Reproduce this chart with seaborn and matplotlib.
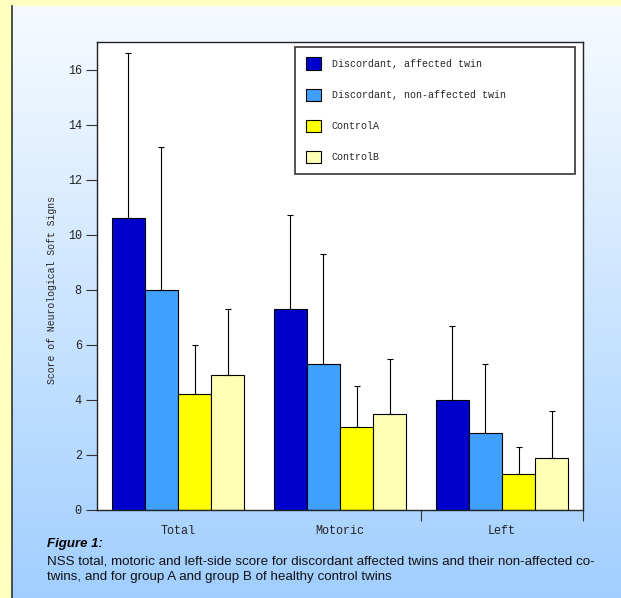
import numpy as np
import pandas as pd
import matplotlib
matplotlib.use("Agg")
import matplotlib.pyplot as plt
import seaborn as sns
from matplotlib.patches import Patch

categories = ["Total", "Motoric", "Left"]
groups = ["Discordant, affected twin", "Discordant, non-affected twin", "Control A", "Control B"]
legend_labels = ["Discordant, affected twin", "Discordant, non-affected twin", "ControlA", "ControlB"]
means = {
    "Discordant, affected twin": [10.6, 7.3, 4.0],
    "Discordant, non-affected twin": [8.0, 5.3, 2.8],
    "Control A": [4.2, 3.0, 1.3],
    "Control B": [4.9, 3.5, 1.9],
}
upper = {
    "Discordant, affected twin": [16.6, 10.7, 6.7],
    "Discordant, non-affected twin": [13.2, 9.3, 5.3],
    "Control A": [6.0, 4.5, 2.3],
    "Control B": [7.3, 5.5, 3.6],
}
colors = ["#0000CC", "#40A0FF", "#FFFF00", "#FFFFB4"]
yticks = [0, 2, 4, 6, 8, 10, 12, 14, 16]

rows = []
for g in groups:
    for c, m, u in zip(categories, means[g], upper[g]):
        rows.append({"cat": c, "group": g, "mean": m, "upper": u})
df = pd.DataFrame(rows)

sns.set_style("white")
mono = "Liberation Mono"
W, H = 621, 598
fig = plt.figure(figsize=(W / 100, H / 100), dpi=100)
fig.patch.set_facecolor("#FFFFC0")

# gradient panel
bg = fig.add_axes([12 / W, 0, 1 - 12 / W, (H - 6) / H])
grad = np.linspace(0, 1, 256).reshape(-1, 1)
top = np.array([0.97, 0.985, 1.0])
bot = np.array([0.63, 0.81, 1.0])
img = top[None, None, :] * (1 - grad[:, :, None]) + bot[None, None, :] * grad[:, :, None]
bg.imshow(img, aspect="auto", extent=[0, 1, 0, 1], origin="upper")
bg.set_xlim(0, 1); bg.set_ylim(0, 1)
bg.set_xticks([]); bg.set_yticks([])
for s in ["top", "right", "bottom"]:
    bg.spines[s].set_visible(False)
bg.spines["left"].set_color("#333333")
bg.spines["left"].set_linewidth(1.2)

ax = fig.add_axes([97 / W, (H - 510) / H, 486 / W, 468 / H])
ax.set_facecolor("white")
sns.barplot(data=df, x="cat", y="mean", hue="group", hue_order=groups, order=categories,
            palette=colors, width=0.815, edgecolor="black", linewidth=0.8,
            errorbar=None, ax=ax, legend=False, saturation=1)

# error bars from bar patches
bars = [p for p in ax.patches]
for i, g in enumerate(groups):
    for j, c in enumerate(categories):
        p = bars[i * len(categories) + j]
        xc = p.get_x() + p.get_width() / 2
        m = means[g][j]
        u = upper[g][j]
        ax.errorbar([xc], [m], yerr=[[0], [u - m]], fmt="none", ecolor="black",
                    elinewidth=0.8, capsize=2.5, capthick=0.8, zorder=1)

ax.set_ylim(0, 17)
ax.set_xlim(-0.5, 2.5)
ax.set_yticks(yticks)
ax.set_yticklabels([str(t) for t in yticks], fontfamily=mono, fontsize=8.5, color="#222222")
ax.set_xticks(range(len(categories)))
ax.set_xticklabels(categories, fontfamily=mono, fontsize=8.5, color="#222222")
ax.tick_params(axis="x", which="major", length=0, pad=11)
ax.set_xticks([1.5, 2.5], minor=True)
ax.tick_params(axis="x", which="minor", length=8, width=0.8, color="#333333", direction="out", bottom=True)
ax.tick_params(axis="y", length=8, width=0.8, color="#333333", direction="out", left=True, pad=3)
ax.set_xlabel("")
ax.set_ylabel("Score of Neurological Soft Signs", fontfamily=mono, fontsize=7, color="#222222")
ax.yaxis.set_label_coords((57 - 97) / 486, (510 - 290) / 468)
for s in ax.spines.values():
    s.set_visible(True)
    s.set_color("#222222")
    s.set_linewidth(1.0)

handles = [Patch(facecolor=c, edgecolor="black", linewidth=0.8) for c in colors]
x0 = (295 - 97) / 486
x1 = (575 - 97) / 486
y0 = (510 - 173) / 468
y1 = (510 - 47) / 468
leg = ax.legend(handles, legend_labels,
                loc="upper left", bbox_to_anchor=(x0, y0, x1 - x0, y1 - y0), mode="expand",
                frameon=True, prop={"family": mono, "size": 7.2}, handlelength=1.55, handleheight=1.55,
                labelspacing=1.85, borderpad=1.05, handletextpad=1.1, fancybox=False,
                borderaxespad=0)
leg.get_frame().set_edgecolor("#444444")
leg.get_frame().set_linewidth(1.3)
leg.get_frame().set_facecolor("white")
leg.get_frame().set_alpha(1)

fig.text(47 / W, 1 - 544 / H, "Figure 1:", fontfamily="Liberation Sans", fontsize=9.5,
         fontweight="bold", fontstyle="italic", va="center", ha="left", color="black")
fig.text(47 / W, 1 - 561 / H, "NSS total, motoric and left-side score for discordant affected twins and their non-affected co-",
         fontfamily="Liberation Sans", fontsize=9.6, va="center", ha="left", color="#111111")
fig.text(47 / W, 1 - 577 / H, "twins, and for group A and group B of healthy control twins",
         fontfamily="Liberation Sans", fontsize=9.6, va="center", ha="left", color="#111111")

fig.savefig("out.png", dpi=100, facecolor=fig.get_facecolor())
